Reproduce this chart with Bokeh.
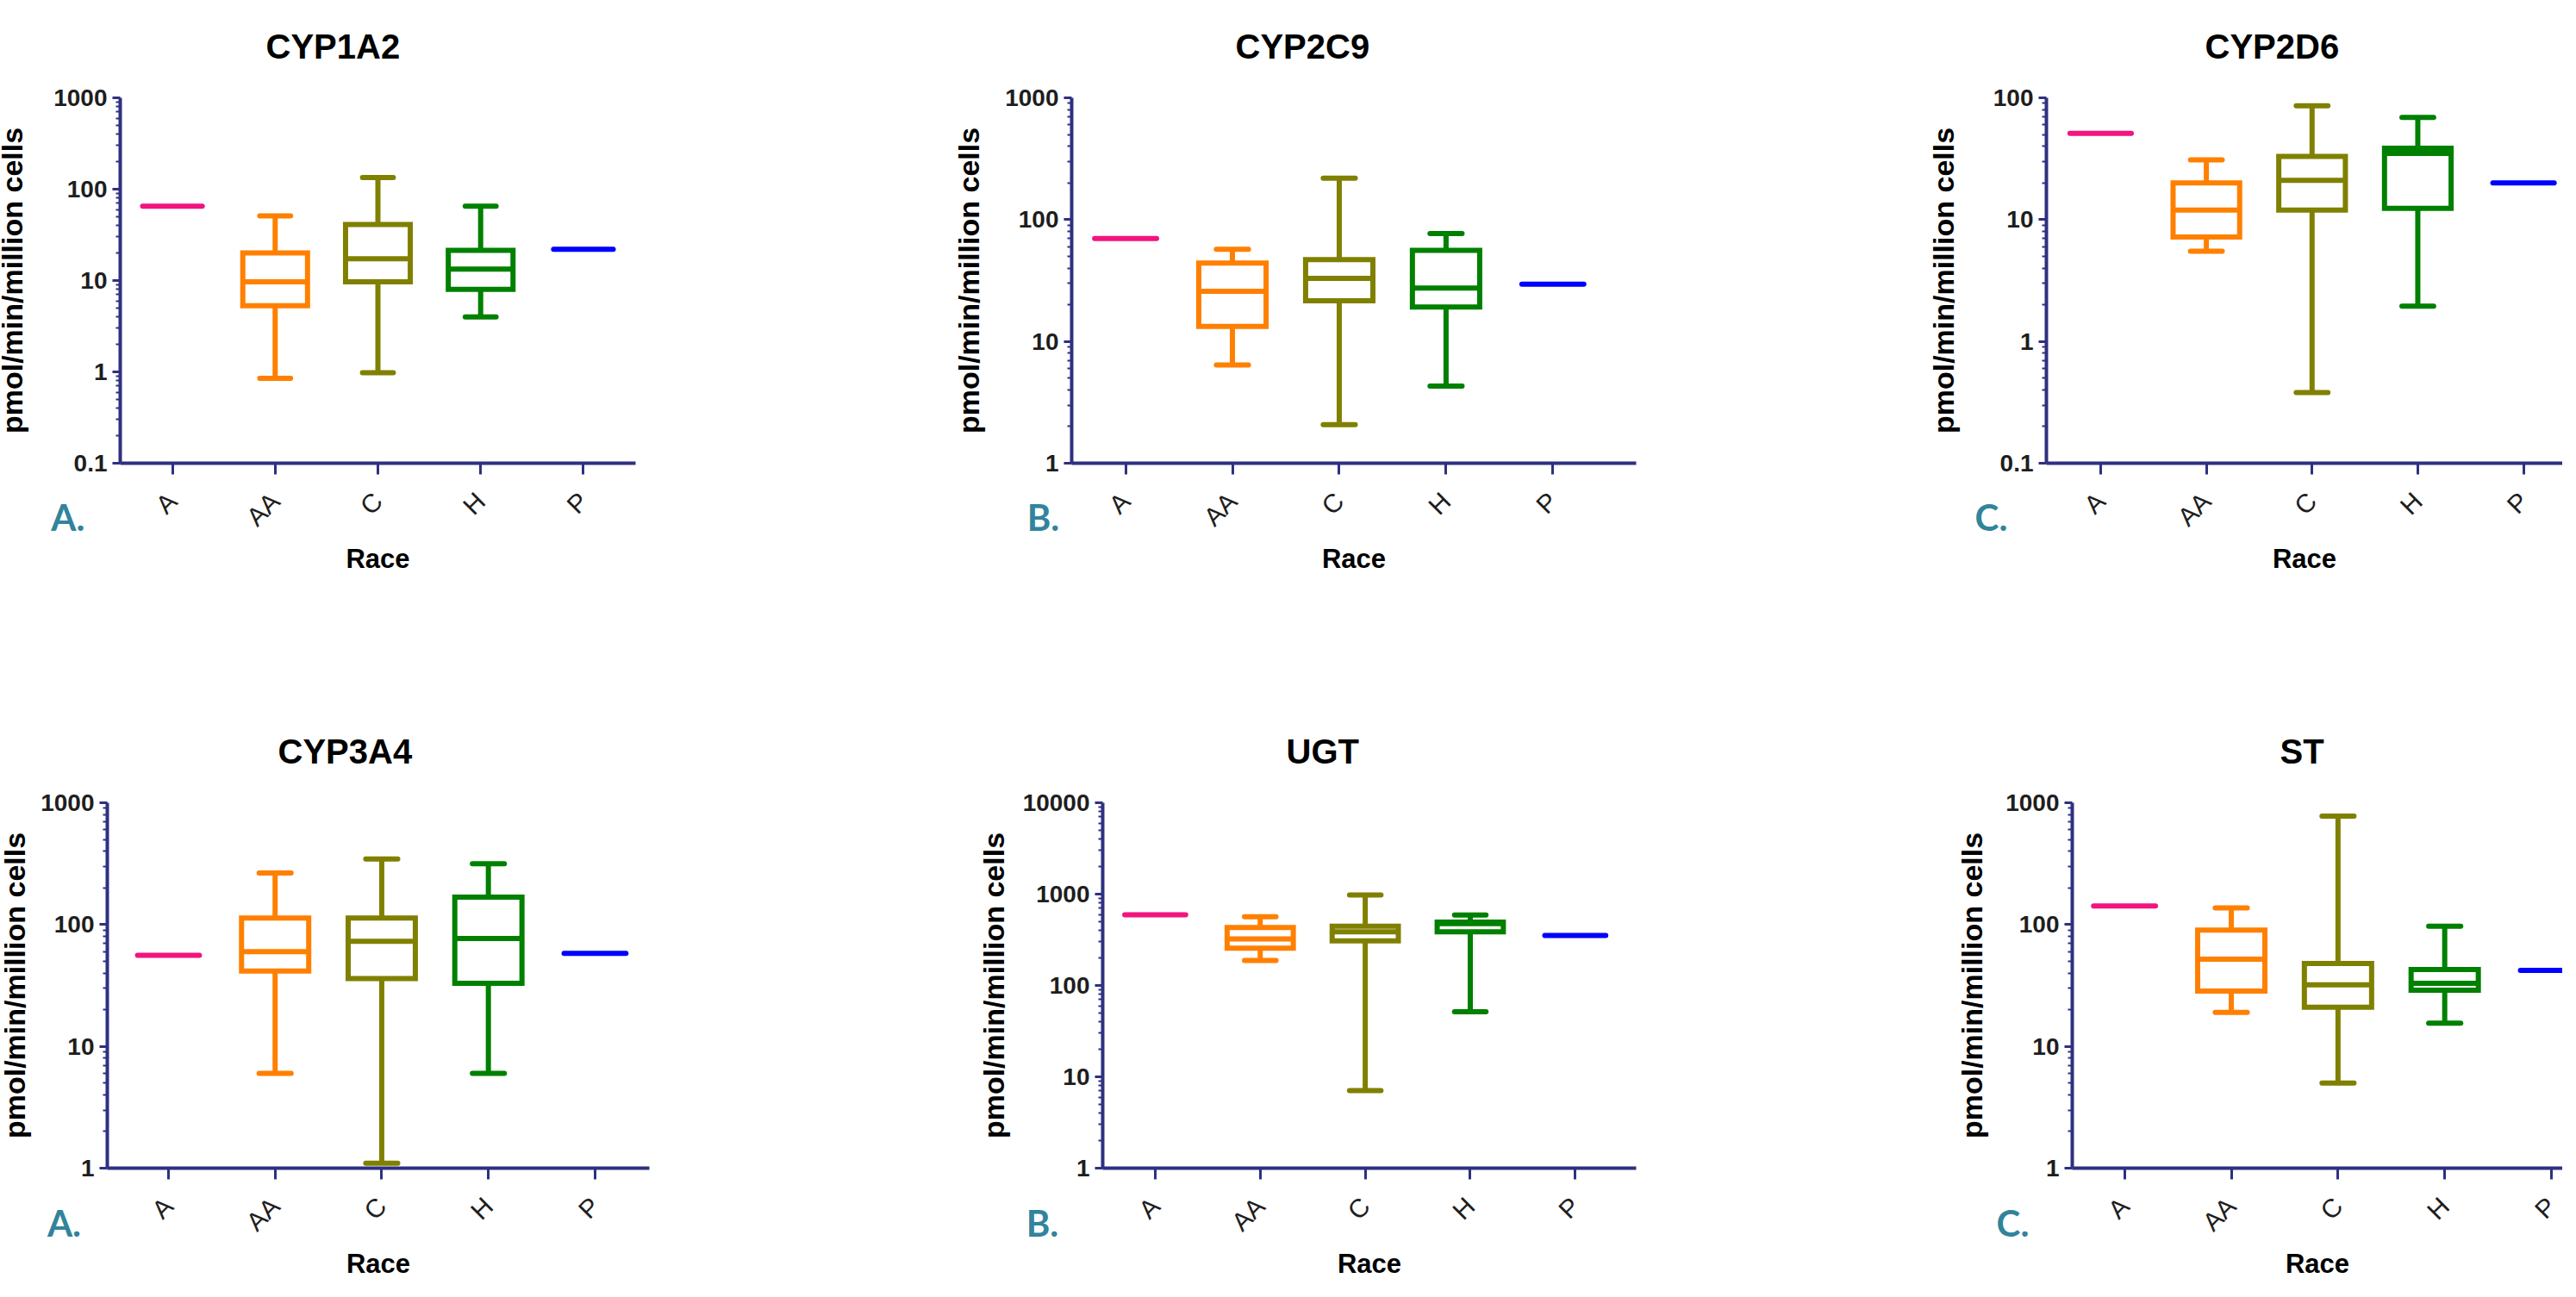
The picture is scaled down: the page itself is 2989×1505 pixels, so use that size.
import math
from bokeh.plotting import figure
from bokeh.layouts import column, row
from bokeh.models import Range1d, FixedTicker, CustomJSTickFormatter, Label, ColumnDataSource
from bokeh.embed import file_html
from bokeh.resources import INLINE

# ---------------- data ----------------
RACES = ["A", "AA", "C", "H", "P"]
RACE_COLORS = ["#F2147F", "#FF8000", "#808000", "#008000", "#0000FF"]
Y_LABEL = "pmol/min/million cells"
X_LABEL = "Race"

# per race: A, AA, C, H, P   (A and P: single donor -> min = max)
cyp1a2_min = [65, 0.85, 0.98, 4.0, 22]
cyp1a2_q1 = [65, 5.3, 9.7, 8.0, 22]
cyp1a2_med = [65, 9.7, 17.3, 13.3, 22]
cyp1a2_q3 = [65, 20, 41, 21.4, 22]
cyp1a2_max = [65, 51, 134, 65, 22]

cyp2c9_min = [70, 6.4, 2.07, 4.3, 29.5]
cyp2c9_q1 = [70, 13.3, 21.6, 19.2, 29.5]
cyp2c9_med = [70, 25.8, 33, 27.4, 29.5]
cyp2c9_q3 = [70, 44, 47, 56, 29.5]
cyp2c9_max = [70, 57, 219, 77, 29.5]

cyp2d6_min = [51, 5.5, 0.38, 1.95, 20]
cyp2d6_q1 = [51, 7.2, 12, 12.4, 20]
cyp2d6_med = [51, 12, 21, 35, 20]
cyp2d6_q3 = [51, 20, 33, 38.6, 20]
cyp2d6_max = [51, 31, 86, 69, 20]

cyp3a4_min = [56, 6.0, 1.1, 6.0, 58]
cyp3a4_q1 = [56, 41.5, 36, 33, 58]
cyp3a4_med = [56, 60, 73, 77, 58]
cyp3a4_q3 = [56, 113, 113, 168, 58]
cyp3a4_max = [56, 265, 345, 316, 58]

ugt_min = [594, 188, 7.05, 51.6, 353]
ugt_q1 = [594, 256, 307, 386, 353]
ugt_med = [594, 324, 386, 476, 353]
ugt_q3 = [594, 430, 446, 494, 353]
ugt_max = [594, 566, 980, 592, 353]

st_min = [142, 19, 5.0, 15.5, 42]
st_q1 = [142, 28.5, 21, 28.9, 42]
st_med = [142, 52, 32, 32.9, 42]
st_q3 = [142, 90, 48, 42.8, 42]
st_max = [142, 137, 776, 97, 42]

# ---------------- style ----------------
AXIS_COLOR = "#2E3080"
TEXT_COLOR = "#1E1E1E"
LETTER_COLOR = "#31849B"
FONT = "Liberation Sans"
LW = 6
BOX_HALF = 0.315
CAP_HALF = 0.15
SINGLE_HALF = 0.29


def panel(title, letter, stats, ylo, yhi, W, H, bl, bt, fw, fh, xs, xe,
          toff, ylstd, letter_dx, letter_dy, letter_side):
    mins, q1s, meds, q3s, maxs = stats
    p = figure(width=W, height=H, output_backend="svg", toolbar_location=None,
               y_axis_type="log",
               x_range=Range1d(xs, xe), y_range=Range1d(10 ** ylo, 10 ** yhi),
               min_border=0, min_border_left=bl, min_border_right=W - bl - fw,
               min_border_top=bt, min_border_bottom=H - bt - fh)
    p.outline_line_color = None
    p.grid.visible = False
    p.background_fill_color = "white"
    p.border_fill_color = "white"

    # title
    p.title.text = title
    p.title.align = "left"
    p.title.text_font = FONT
    p.title.text_font_size = "40px"
    p.title.text_font_style = "bold"
    p.title.text_color = "#000000"
    p.title.standoff = 75
    p.title.offset = toff

    # y axis
    majors = [10.0 ** k for k in range(ylo, yhi + 1)]
    minors = [m * 10.0 ** k for k in range(ylo, yhi) for m in range(2, 10)]
    ya = p.yaxis[0]
    ya.ticker = FixedTicker(ticks=majors, minor_ticks=minors)
    ya.formatter = CustomJSTickFormatter(
        code="return tick < 1 ? tick.toString() : Math.round(tick).toString();")
    ya.axis_line_color = AXIS_COLOR
    ya.axis_line_width = 4
    ya.major_tick_line_color = AXIS_COLOR
    ya.major_tick_line_width = 3
    ya.major_tick_out = 9
    ya.major_tick_in = 0
    ya.minor_tick_line_color = AXIS_COLOR
    ya.minor_tick_line_width = 2
    ya.minor_tick_out = 5
    ya.minor_tick_in = 0
    ya.major_label_text_font = FONT
    ya.major_label_text_font_size = "28px"
    ya.major_label_text_font_style = "bold"
    ya.major_label_text_color = TEXT_COLOR
    ya.major_label_standoff = 6
    ya.axis_label = Y_LABEL
    ya.axis_label_text_font = FONT
    ya.axis_label_text_font_size = "34px"
    ya.axis_label_text_font_style = "bold"
    ya.axis_label_text_color = "#000000"
    ya.axis_label_standoff = ylstd

    # x axis
    xa = p.xaxis[0]
    xa.ticker = FixedTicker(ticks=list(range(len(RACES))), minor_ticks=[])
    xa.major_label_overrides = {i: r for i, r in enumerate(RACES)}
    xa.major_label_orientation = math.pi / 4
    xa.axis_line_color = AXIS_COLOR
    xa.axis_line_width = 4
    xa.major_tick_line_color = AXIS_COLOR
    xa.major_tick_line_width = 3
    xa.major_tick_out = 13
    xa.major_tick_in = 0
    xa.major_label_text_font = FONT
    xa.major_label_text_font_size = "30px"
    xa.major_label_text_color = TEXT_COLOR
    xa.major_label_standoff = 26
    xa.axis_label = X_LABEL
    xa.axis_label_text_font = FONT
    xa.axis_label_text_font_size = "31px"
    xa.axis_label_text_font_style = "bold"
    xa.axis_label_text_color = "#000000"
    xa.axis_label_standoff = 0

    # boxes (groups with spread) and single values
    bi = [i for i in range(len(RACES)) if maxs[i] != mins[i]]
    si = [i for i in range(len(RACES)) if maxs[i] == mins[i]]
    bsrc = ColumnDataSource(dict(
        x=bi,
        xl=[i - BOX_HALF for i in bi], xr=[i + BOX_HALF for i in bi],
        cl=[i - CAP_HALF for i in bi], cr=[i + CAP_HALF for i in bi],
        lo=[mins[i] for i in bi], q1=[q1s[i] for i in bi], med=[meds[i] for i in bi],
        q3=[q3s[i] for i in bi], hi=[maxs[i] for i in bi],
        color=[RACE_COLORS[i] for i in bi]))
    p.segment(x0="x", y0="q3", x1="x", y1="hi", line_color="color", line_width=LW, source=bsrc)
    p.segment(x0="x", y0="q1", x1="x", y1="lo", line_color="color", line_width=LW, source=bsrc)
    p.segment(x0="cl", y0="hi", x1="cr", y1="hi", line_color="color", line_width=LW,
              line_cap="round", source=bsrc)
    p.segment(x0="cl", y0="lo", x1="cr", y1="lo", line_color="color", line_width=LW,
              line_cap="round", source=bsrc)
    p.vbar(x="x", width=2 * BOX_HALF, bottom="q1", top="q3", fill_color="white",
           fill_alpha=1.0, line_color="color", line_width=LW, line_join="miter", source=bsrc)
    p.segment(x0="xl", y0="med", x1="xr", y1="med", line_color="color", line_width=LW,
              source=bsrc)

    ssrc = ColumnDataSource(dict(
        xl=[i - SINGLE_HALF for i in si], xr=[i + SINGLE_HALF for i in si],
        v=[meds[i] for i in si], color=[RACE_COLORS[i] for i in si]))
    p.segment(x0="xl", y0="v", x1="xr", y1="v", line_color="color", line_width=LW,
              line_cap="round", source=ssrc)

    # panel letter (bottom-left, outside the frame); held in a side panel that has
    # spare room so it is not clipped to the frame, positioned through the scales
    px_per_x = fw / (xe - xs)
    px_per_dec = fh / (yhi - ylo)
    lx = xs + letter_dx / px_per_x
    ly = 10 ** (ylo + letter_dy / px_per_dec)
    p.add_layout(Label(x=lx, y=ly, text=letter, text_font="Lato", text_font_size="42px",
                       text_font_style="bold", text_color=LETTER_COLOR,
                       text_align="center", text_baseline="middle"), letter_side)
    return p


p1 = panel("CYP1A2", "A.", (cyp1a2_min, cyp1a2_q1, cyp1a2_med, cyp1a2_q3, cyp1a2_max), -1, 3,
           1000, 760, 143, 121, 602, 424, -0.508, 4.508, 169, 26, -61, -62, "below")
p2 = panel("CYP2C9", "B.", (cyp2c9_min, cyp2c9_q1, cyp2c9_med, cyp2c9_q3, cyp2c9_max), 0, 3,
           1150, 760, 251, 121, 655, 424, -0.505, 4.78, 190, 20, -33, -62, "below")
p3 = panel("CYP2D6", "C.", (cyp2d6_min, cyp2d6_q1, cyp2d6_med, cyp2d6_q3, cyp2d6_max), -1, 2,
           831, 760, 232, 121, 599, 424, -0.513, 4.37, 184, 36, -64, -62, "below")
p4 = panel("CYP3A4", "A.", (cyp3a4_min, cyp3a4_q1, cyp3a4_med, cyp3a4_q3, cyp3a4_max), 0, 3,
           1000, 737, 132, 179, 629, 424, -0.574, 4.51, 198, 8, -50, -63, "right")
p5 = panel("UGT", "B.", (ugt_min, ugt_q1, ugt_med, ugt_q3, ugt_max), 0, 4,
           1150, 737, 287, 179, 619, 424, -0.50, 4.58, 213, 12, -70, -63, "left")
p6 = panel("ST", "C.", (st_min, st_q1, st_med, st_q3, st_max), 0, 3,
           831, 737, 262, 179, 569, 424, -0.49, 4.105, 241, 17, -69, -63, "left")

# cancel the page's 8px body margin so the layout starts at the window's corner
layout = column(row(p1, p2, p3), row(p4, p5, p6), margin=(-8, 0, 0, -8))

with open("out.html", "w") as f:
    f.write(file_html(layout, INLINE))
